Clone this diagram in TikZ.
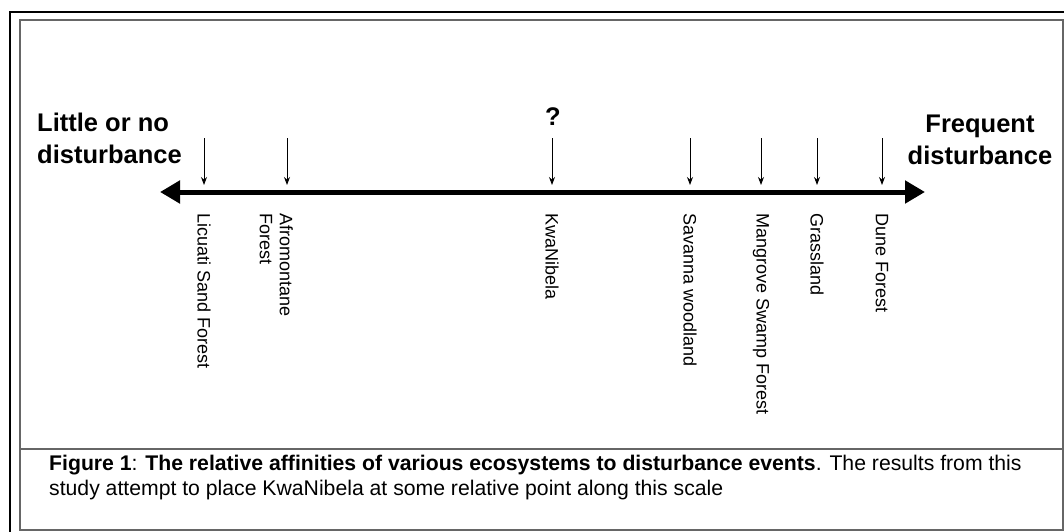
\documentclass[tikz,border=0pt]{standalone}
\usepackage{fontspec}
\setmainfont{Liberation Sans}
\usetikzlibrary{arrows.meta,positioning}

\begin{document}
\begin{tikzpicture}[x=1pt, y=-1pt,
    frame/.style={draw=black!60, line width=1.4pt},
    axis/.style={{Triangle[length=20pt,width=22pt]}-{Triangle[length=20pt,width=22pt]}, line width=5pt},
    marker/.style={-{Stealth[length=8pt,width=6pt]}, line width=0.9pt, shorten >=7pt},
    endlabel/.style={font=\fontsize{25.5}{32}\selectfont\bfseries, inner sep=0pt},
    site/.style={rotate=-90, anchor=west, align=left, inner sep=0pt, font=\fontsize{18}{20}\selectfont},
    caption/.style={anchor=north west, align=left, inner sep=0pt, font=\fontsize{21.2}{25}\selectfont}
]
    \useasboundingbox (0,0) rectangle (1064,532);
    % frames
    \draw [line width=2.6pt] (10,12) rectangle (1100,570);
    \draw [frame] (20,20) rectangle (1063,530);
    \draw [frame] (20,449) -- (1063,449);

    % disturbance scale
    \coordinate (lo) at (160,192);
    \coordinate (hi) at (925,192);
    \draw [axis] (lo) -- (hi);

    \node [endlabel, anchor=north west, align=left] (little) at (37,113) {Little or no\\disturbance};
    \node [endlabel, anchor=north, align=center] (frequent) at (980,115) {Frequent\\disturbance};
    \node [endlabel, anchor=south] (unknown) at (553,126) {?};

    % ecosystems along the scale
    \coordinate (t1) at (204,138);
    \coordinate (t2) at (287,138);
    \coordinate (t3) at (552,138);
    \coordinate (t4) at (690,138);
    \coordinate (t5) at (761,138);
    \coordinate (t6) at (817,138);
    \coordinate (t7) at (882,138);

    \node [site] (licuati) at (204,213) {Licuati Sand Forest};
    \node [site, anchor=north west] (afromontane) at (293,213) {Afromontane\\Forest};
    \node [site] (kwanibela) at (552,213) {KwaNibela};
    \node [site] (savanna) at (690,213) {Savanna woodland};
    \node [site] (mangrove) at (761,213) {Mangrove Swamp Forest};
    \node [site] (grassland) at (817,213) {Grassland};
    \node [site] (dune) at (882,213) {Dune Forest};

    \draw [marker] (t1) -- (t1 |- lo);
    \draw [marker] (t2) -- (t2 |- lo);
    \draw [marker] (t3) -- (t3 |- lo);
    \draw [marker] (t4) -- (t4 |- lo);
    \draw [marker] (t5) -- (t5 |- lo);
    \draw [marker] (t6) -- (t6 |- lo);
    \draw [marker] (t7) -- (t7 |- lo);

    % caption
    \node [caption] (note) at (49,455) {\textbf{Figure 1}: \textbf{The relative affinities of various ecosystems to disturbance events}. The results from this\\study attempt to place KwaNibela at some relative point along this scale};
\end{tikzpicture}
\end{document}
